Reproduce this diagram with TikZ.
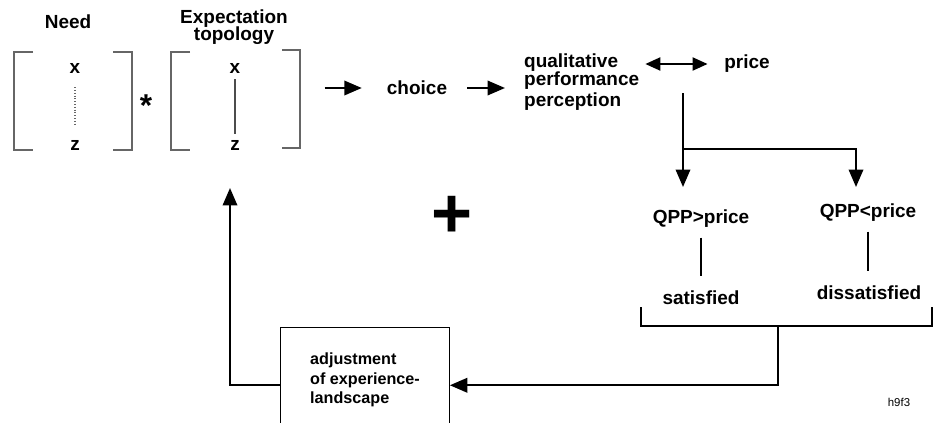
\documentclass[tikz,border=0pt]{standalone}
\usepackage{fontspec}
\setmainfont{Liberation Sans}
\usetikzlibrary{arrows.meta,positioning,calc}

\begin{document}
\begin{tikzpicture}[x=0.02cm,y=-0.02cm,
  lbl/.style={font=\fontsize{10.8}{10.5}\selectfont\bfseries,align=center},
  flow/.style={-{Triangle[length=3.5mm,width=2.9mm]},line width=1.2pt},
  dflow/.style={{Triangle[length=3mm,width=2.6mm]}-{Triangle[length=3mm,width=2.6mm]},line width=1.2pt},
  link/.style={line width=1.2pt},
  brk/.style={draw=black!60,line width=0.6pt},
  adjbox/.style={draw,line width=0.6pt,minimum width=96pt,minimum height=60pt,align=left,font=\fontsize{9.2}{11.2}\selectfont\bfseries}]
\useasboundingbox (0,0) rectangle (934,423);
\clip (0,0) rectangle (934,423);
\node[lbl] (need) at (68,22) {Need};
\node[lbl] (expect) at (234,27) {Expectation\\[-1pt]topology};
\node[lbl] (x1) at (75,68) {x};
\node[lbl] (z1) at (75,145) {z};
\node[lbl] (x2) at (235,68) {x};
\node[lbl] (z2) at (235,145) {z};
\node[lbl,font=\fontsize{18}{18}\selectfont\bfseries] (times) at (146,106) {*};
\node[lbl] (choice) at (417,88) {choice};
\node[lbl,anchor=west,align=left] (qpp) at (518,82) {qualitative\\[-0.5pt]performance\\[1.5pt]perception};
\node[lbl] (price) at (747,64) {price};
\node[lbl] (gt) at (701,219) {QPP>price};
\node[lbl] (lt) at (868,213) {QPP<price};
\node[lbl] (sat) at (701,298) {satisfied};
\node[lbl] (dissat) at (869,293) {dissatisfied};
\node[lbl,font=\fontsize{40}{40}\selectfont\bfseries] (plus) at (452,217) {+};
\node[adjbox] (adj) at (365,380) {adjustment\\of experience-\\landscape};
\node[font=\fontsize{6.5}{7}\selectfont] (tag) at (899,402) {h9f3};
\draw[brk] (33,52) -- (14,52) -- (14,150) -- (33,150);
\draw[brk] (113,52) -- (132,52) -- (132,150) -- (113,150);
\draw[brk] (190,52) -- (171,52) -- (171,150) -- (190,150);
\draw[brk] (282,50) -- (300,50) -- (300,148) -- (282,148);
\draw[black!60,densely dotted,line width=0.6pt,shorten <=4.5pt,shorten >=4.5pt] (x1) -- (z1);
\draw[black!70,line width=0.6pt] (x2) -- (z2);
\coordinate (vecB) at (300,88);
\coordinate (cmp) at (683,93);
\coordinate (fork) at (683,149);
\coordinate (gtin) at (683,187);
\coordinate (ltin) at (856,187);
\coordinate (join) at (778,326);
\coordinate (back) at (230,188);
\draw[flow,shorten <=14pt,shorten >=10.8pt] (vecB) -- (choice);
\draw[flow,shorten <=8pt,shorten >=7.4pt] (choice) -- (choice -| qpp.west);
\draw[dflow,shorten >=6pt] (qpp.east |- price) -- (price);
\draw[flow] (cmp) -- (gtin);
\draw[flow] (fork) -| (ltin);
\draw[link,shorten <=2pt,shorten >=5pt] (gt) -- (sat);
\draw[link,shorten <=2pt,shorten >=5pt] (lt) -- (lt |- dissat.north);
\draw[link] (641,307) |- (932,326) -- (932,307);
\draw[flow] (join) |- ([yshift=-3pt]adj.east);
\draw[flow] ([yshift=-3pt]adj.west) -| (back);
\end{tikzpicture}
\end{document}
